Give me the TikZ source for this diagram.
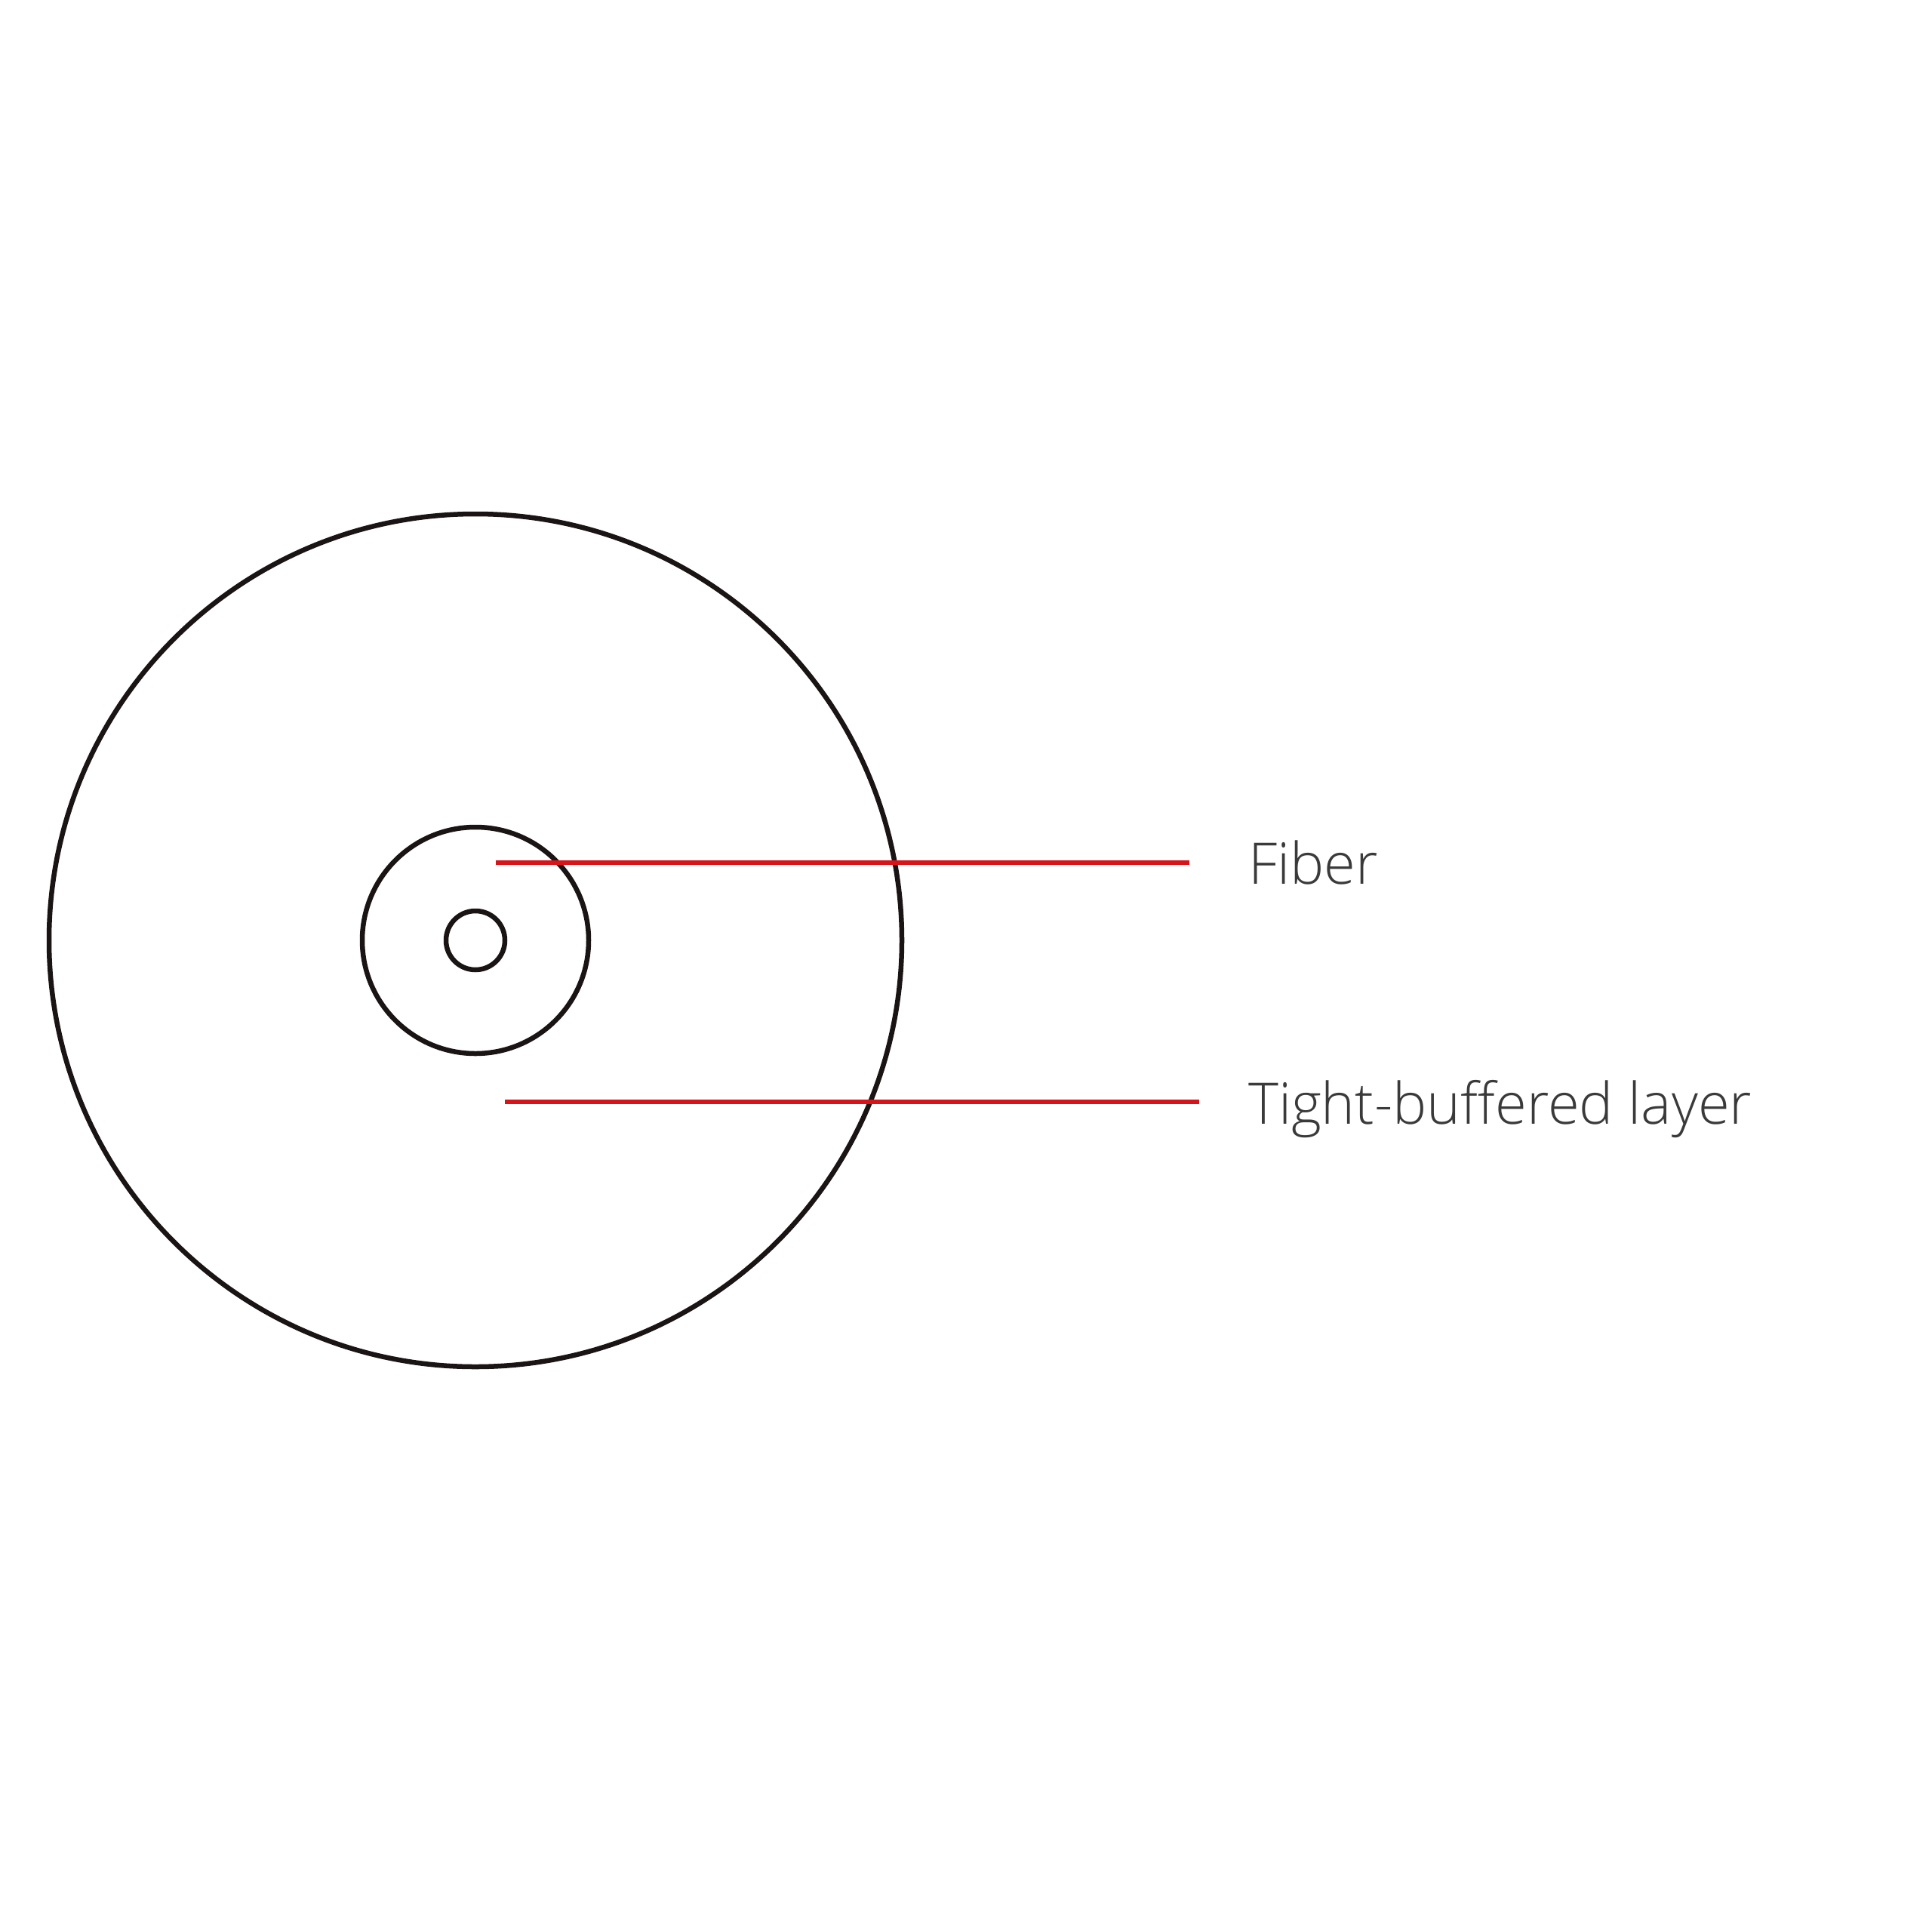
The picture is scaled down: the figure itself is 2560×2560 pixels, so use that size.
\documentclass[tikz,border=0pt]{standalone}
\usepackage{fontspec}
\setmainfont{Open Sans Light}
\definecolor{txt}{HTML}{3A3A3A}
\definecolor{lead}{HTML}{D7141A}
\definecolor{ring}{HTML}{1A1414}
\begin{document}
\begin{tikzpicture}[x=1pt,y=-1pt,
  ringline/.style={draw=ring,line width=6.5pt},
  leader/.style={draw=lead,line width=5.5pt},
  label/.style={anchor=base west,inner sep=0pt,text=txt,font=\fontsize{76}{90}\selectfont}]
\useasboundingbox (0,0) rectangle (2560,2560);
\fill[white] (0,0) rectangle (2560,2560);
\coordinate (c) at (630,1246);
\draw[ringline] (c) circle[radius=565];
\draw[ringline] (c) circle[radius=150];
\draw[ringline] (c) circle[radius=39];
\node[label] (fiber) at (1654,1171) {Fiber};
\node[label] (tight) at (1654,1489) {Tight-buffered layer};
\coordinate (f0) at (657,1143);
\coordinate (f1) at (1576,1143);
\coordinate (t0) at (669,1460);
\coordinate (t1) at (1589,1460);
\draw[leader] (f0) -- (f1);
\draw[leader] (t0) -- (t1);
\end{tikzpicture}
\end{document}
